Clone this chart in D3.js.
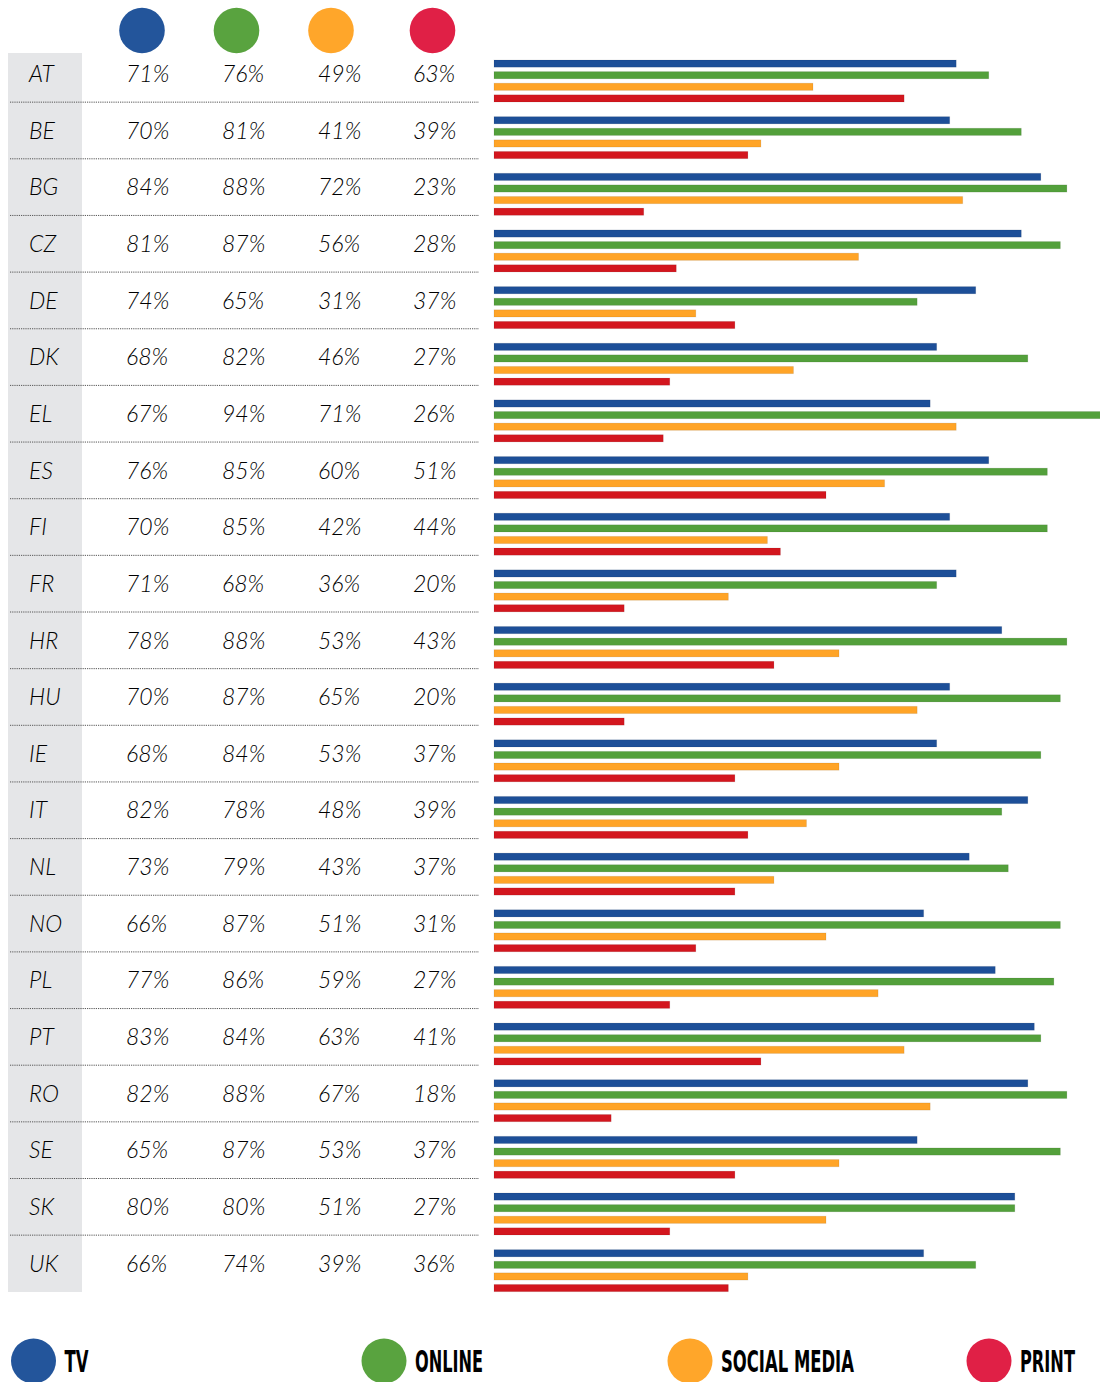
<!DOCTYPE html>
<html><head><meta charset="utf-8">
<script src="https://cdn.jsdelivr.net/npm/d3@7"></script>
<style>
html,body{margin:0;padding:0;background:#fff;overflow:hidden;}
svg{display:block;}
</style></head>
<body>
<svg id="chart" width="1100" height="1382"></svg>
<script>
const countries = ["AT","BE","BG","CZ","DE","DK","EL","ES","FI","FR","HR","HU","IE","IT","NL","NO","PL","PT","RO","SE","SK","UK"];
const series = ["TV","ONLINE","SOCIAL MEDIA","PRINT"];
const tv     = [71,70,84,81,74,68,67,76,70,71,78,70,68,82,73,66,77,83,82,65,80,66];
const online = [76,81,88,87,65,82,94,85,85,68,88,87,84,78,79,87,86,84,88,87,80,74];
const social = [49,41,72,56,31,46,71,60,42,36,53,65,53,48,43,51,59,63,67,53,51,39];
const print  = [63,39,23,28,37,27,26,51,44,20,43,20,37,39,37,31,27,41,18,37,27,36];

const barColors = ["#1d4f98","#53a03b","#ffa427","#d3161e"];
const dotColors = ["#23559b","#59a33f","#ffa62a","#e02046"];
const values = [tv, online, social, print];

const svg = d3.select("#chart");

const y = d3.scaleBand().domain(countries).range([45, 45 + 22*56.65]);
const x = d3.scaleLinear().domain([0,100]).range([494, 494 + 651]);
const colX = d3.scaleOrdinal().domain(series).range([126, 222, 318, 413]);
const dotX = d3.scaleOrdinal().domain(series).range([142, 236.5, 331, 432.5]);
const barY = d3.scaleBand().domain(series).range([0, 42]).paddingInner(0.38).paddingOuter(0);

// gray country column
svg.append("rect").attr("x",8).attr("y",53).attr("width",74).attr("height",1292-53).attr("fill","#e5e6e8");

// header dots
svg.selectAll("circle.hdr").data(series).join("circle")
  .attr("class","hdr").attr("cx",d=>dotX(d)).attr("cy",30.5).attr("r",22.8)
  .attr("fill",(d,i)=>dotColors[i]);

// separators
svg.selectAll("line.sep").data(countries.slice(0,-1)).join("line")
  .attr("class","sep")
  .attr("x1",10).attr("x2",479)
  .attr("y1",d=>y(d)+y.bandwidth()+0.5).attr("y2",d=>y(d)+y.bandwidth()+0.5)
  .attr("stroke","#555").attr("stroke-width",1).attr("stroke-dasharray","1.2,1");

const rows = svg.selectAll("g.row").data(countries).join("g")
  .attr("class","row").attr("transform",d=>`translate(0,${y(d)})`);

rows.append("text").attr("x",29).attr("y",37)
  .attr("font-family","Lato, 'Open Sans', sans-serif").attr("font-weight",300)
  .attr("font-style","italic").attr("font-size",23).attr("fill","#000")
  .text(d=>d);

series.forEach((s,si)=>{
  rows.append("text").attr("x",colX(s)).attr("y",37)
    .attr("font-family","Lato, 'Open Sans', sans-serif").attr("font-weight",300)
    .attr("font-style","italic").attr("font-size",23).attr("fill","#000")
    .text((d,i)=>values[si][i] + "%");
  rows.append("rect")
    .attr("x",x(0)).attr("y",15 + barY(s))
    .attr("width",(d,i)=>x(values[si][i]) - x(0))
    .attr("height",barY.bandwidth())
    .attr("fill",barColors[si])
    .attr("stroke","rgba(0,0,0,0.08)").attr("stroke-width",1);
});

// legend
const legX = d3.scaleOrdinal().domain(series).range([33.5, 384, 690, 989]);
const legLen = [24, 68, 133, 55];
const leg = svg.selectAll("g.leg").data(series).join("g")
  .attr("class","leg").attr("transform",d=>`translate(${legX(d)},1361)`);
leg.append("circle").attr("r",22.5).attr("fill",(d,i)=>dotColors[i]);
leg.each(function(d,i){
  const g = d3.select(this).append("g");
  const t = g.append("text").attr("x",0).attr("y",0)
    .attr("font-family","'Liberation Sans Narrow','DejaVu Sans Condensed',sans-serif")
    .attr("font-weight",700).attr("font-size",30).attr("fill","#000")
    .text(d);
  const w = t.node().getComputedTextLength();
  g.attr("transform",`translate(31,11) scale(${legLen[i]/w},1)`);
});
</script>
</body></html>
